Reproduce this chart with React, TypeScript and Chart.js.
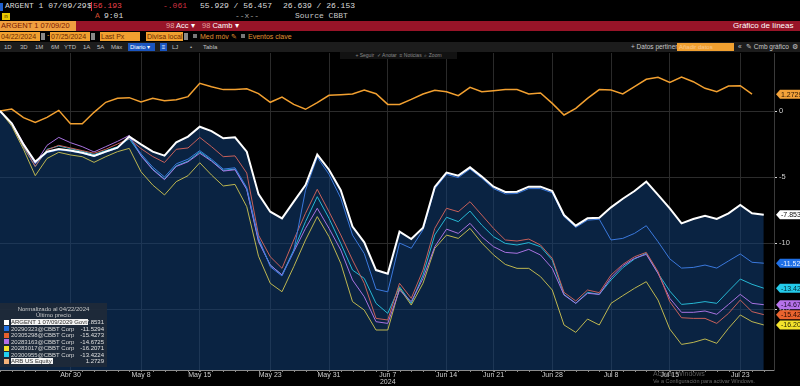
import React, { useEffect, useRef } from "react";
import { Chart, registerables } from "chart.js";
Chart.register(...registerables);

const dates = [
  "04-22","04-23","04-24","04-25","04-26","04-29","04-30","05-01","05-02","05-03",
  "05-06","05-07","05-08","05-09","05-10","05-13","05-14","05-15","05-16","05-17",
  "05-20","05-21","05-22","05-23","05-24","05-28","05-29","05-30","05-31","06-03",
  "06-04","06-05","06-06","06-07","06-10","06-11","06-12","06-13","06-14","06-17",
  "06-18","06-20","06-21","06-24","06-25","06-26","06-27","06-28","07-01","07-02",
  "07-03","07-05","07-08","07-09","07-10","07-11","07-12","07-15","07-16","07-17",
  "07-18","07-19","07-22","07-23","07-24","07-25",
];
const xTickDates = ["04-30","05-08","05-15","05-23","05-31","06-07","06-14","06-21","06-28","07-08","07-15","07-23"];
const xTickLabels = ["Abr 30","May 8","May 15","May 23","May 31","Jun 7","Jun 14","Jun 21","Jun 28","Jul 8","Jul 15","Jul 23"];
const xYearLabelDate = "06-07";
const yearLabel = "2024";
const yTicks = [-15, -10, -5, 0];

const argent = [
  0,-0.93,-2.53,-3.84,-3.08,-2.88,-3.0,-3.16,-3.41,-3.08,-2.78,-1.94,
  -2.53,-3.08,-3.38,-2.37,-1.94,-1.19,-1.52,-2.07,-1.99,-3.08,
  -6.3,-7.63,-8.13,-6.87,-5.61,-3.3,-4.45,-6.0,-8.76,-9.95,-12.05,-12.33,-9.14,-9.7,-8.85,-5.75,
  -4.66,-4.9,-4.27,-4.97,-5.73,-6.13,-6.11,-5.73,-5.73,-6.06,-7.88,-8.69,-8.13,-8.08,
  -7.3,-6.65,-6.06,-5.35,-6.36,-7.37,-8.51,-8.18,-7.93,-8.18,-7.75,-7.12,-7.75,-7.8531,
];
const bond20290323 = [
  0,-0.95,-2.6,-3.95,-3.15,-2.95,-3.05,-3.2,-3.45,-3.12,-2.82,-2.0,
  -3.25,-4.25,-5.0,-4.0,-3.65,-3.0,-3.65,-4.4,-4.3,-5.8,
  -9.6,-11.8,-12.5,-10.6,-6.0,-3.5,-4.8,-6.6,-9.4,-10.8,-13.5,-13.7,-10.0,-10.4,-9.0,-5.9,
  -4.8,-5.05,-4.4,-5.1,-5.88,-6.28,-6.25,-5.88,-5.88,-6.2,-8.0,-8.82,-8.27,-8.2,
  -9.77,-9.65,-9.27,-8.69,-9.9,-11.2,-11.9,-11.85,-11.67,-11.9,-11.36,-10.83,-11.46,-11.5294,
];
const bond20305298 = [
  0,-1.0,-2.7,-4.2,-2.95,-2.6,-2.8,-3.0,-3.2,-2.9,-2.5,-2.1,
  -2.85,-3.45,-3.9,-2.9,-2.8,-2.0,-2.7,-3.46,-3.4,-4.7,
  -9.4,-11.04,-11.92,-9.77,-7.75,-5.93,-7.63,-9.39,-11.29,-13.05,-15.71,-15.83,-13.05,-14.19,-12.05,-8.89,
  -7.37,-7.63,-6.87,-7.88,-8.89,
  -9.77,-9.85,-9.7,-10.15,-11.16,-13.74,-14.39,-13.56,-13.76,-12.42,-11.62,-11.04,-10.71,-12.17,-14.44,-15.66,-15.71,-15.71,-16.09,-15.33,-14.32,-15.2,-15.4273,
];
const bond20283163 = [
  0,-0.9,-2.45,-4.0,-2.6,-2.0,-2.4,-2.7,-3.1,-2.7,-2.3,-1.85,
  -3.4,-4.45,-5.2,-4.2,-3.85,-3.2,-3.8,-4.55,-4.45,-5.95,
  -9.9,-11.67,-12.42,-10.66,-8.89,-7.37,-8.89,-10.53,-12.8,-14.07,-15.96,-16.09,-13.56,-14.44,-12.68,-10.28,
  -8.95,-9.27,-8.51,-9.52,-10.28,
  -10.71,-10.78,-10.48,-10.91,-11.92,-13.94,-14.57,-13.81,-13.89,-12.63,-11.72,-11.16,-10.86,-12.3,-14.19,-15.25,-15.25,-15.15,-15.4,-14.65,-13.89,-14.57,-14.6725,
];
const bond20283017 = [
  0,-1.15,-2.9,-4.9,-3.6,-3.13,-3.33,-3.46,-3.89,-3.46,-3.08,-2.83,
  -4.6,-5.61,-6.36,-5.35,-4.9,-3.92,-4.85,-5.68,-5.56,-7.25,
  -11.0,-13.05,-13.69,-11.79,-9.77,-8.0,-9.52,-11.54,-14.44,-15.08,-16.59,-16.59,-13.43,-14.7,-13.05,-10.4,
  -9.4,-9.65,-8.89,-10.0,-10.9,
  -11.62,-11.92,-11.92,-12.55,-13.56,-16.21,-16.77,-15.76,-16.21,-14.57,-13.99,-13.43,-12.93,-14.32,-16.52,-17.68,-17.53,-17.27,-17.6,-16.46,-15.45,-15.96,-16.2071,
];
const bond20300955 = [
  0,-1.0,-2.75,-4.2,-2.9,-2.65,-2.85,-3.05,-3.3,-3.0,-2.7,-2.1,
  -3.35,-4.4,-5.15,-4.15,-3.8,-3.1,-3.75,-4.5,-4.4,-5.9,
  -9.8,-11.67,-12.42,-10.53,-8.38,-6.49,-8.13,-10.03,-12.05,-12.68,-14.57,-15.33,-13.31,-14.57,-12.42,-9.39,
  -8.05,-8.38,-7.58,-8.64,-9.52,
  -10.03,-10.15,-9.97,-10.28,-11.29,-13.89,-14.57,-13.74,-13.89,-12.8,-11.87,-11.21,-10.78,-12.3,-13.64,-14.65,-14.57,-14.44,-14.57,-13.64,-12.73,-13.13,-13.4224,
];
const arbEquity = [
  0,0.15,-0.5,-0.86,-0.48,0.05,-0.96,-0.96,-0.1,0.66,0.96,1.01,0.68,0.96,0.78,0.86,1.09,2.1,1.84,1.62,1.62,1.69,1.32,
  0.66,1.06,0.5,0.13,0.63,1.19,1.24,1.29,1.59,1.31,0.5,0.5,0.88,1.29,1.57,1.46,1.16,1.79,1.46,1.54,
  1.62,1.62,1.29,1.36,0.58,-0.3,0.2,0.96,1.62,1.59,1.29,1.84,2.4,2.55,2.17,2.58,2.22,1.72,1.46,1.89,1.92,1.2729,
  null,
];

const seriesNames = [
  "ARGENT 1 07/09/2029 Govt",
  "20290323@CBBT Corp",
  "20305298@CBBT Corp",
  "20283163@CBBT Corp",
  "20283017@CBBT Corp",
  "20300955@CBBT Corp",
  "ARB US Equity",
];
const seriesData = [argent, bond20290323, bond20305298, bond20283163, bond20283017, bond20300955, arbEquity];
const lineColors = ["#ffffff", "#3a78dc", "#c8605a", "#a872e0", "#bdb650", "#26b8d4", "#f2a030"];
const legendColors = ["#ffffff", "#1f6fe0", "#e8602c", "#b46ee8", "#f5e02a", "#22d0f0", "#f4b27a"];
const tagColors = ["#ffffff", "#1f6fe5", "#ea632e", "#b672ea", "#f3e32c", "#24cbea", "#f3a23a"];
const tagTextColors = ["#101010", "#e8f0ff", "#2a0a00", "#1a0a2a", "#2a2a00", "#002a33", "#2a1400"];

const legendTitle = "Normalizado al 04/22/2024";
const legendSub = "Último precio";

function lastVal(arr: (number | null)[]) {
  for (let i = arr.length - 1; i >= 0; i--) if (arr[i] !== null) return arr[i] as number;
  return 0;
}

const FONT = '"Liberation Sans", Arial, sans-serif';
const MONO = '"Liberation Mono", "DejaVu Sans Mono", monospace';

export default function App() {
  const ref = useRef<HTMLCanvasElement | null>(null);

  useEffect(() => {
    const canvas = ref.current!;
    const tickIdx = xTickDates.map((d) => dates.indexOf(d));
    const yearIdx = dates.indexOf(xYearLabelDate);

    const extras = {
      id: "extras",
      afterDraw(chart: any) {
        const ctx = chart.ctx;
        const xs = chart.scales.x;
        const ys = chart.scales.y;
        const ca = chart.chartArea;
        ctx.save();
        ctx.strokeStyle = "#8c8c8c";
        ctx.lineWidth = 1;
        for (let i = 0; i < dates.length; i++) {
          const px = Math.round(xs.getPixelForValue(i)) + 0.5;
          ctx.beginPath();
          ctx.moveTo(px, ca.bottom);
          ctx.lineTo(px, ca.bottom + 2);
          ctx.stroke();
        }
        const W = chart.width;
        const x0 = ca.right + 2;
        ctx.font = "7px " + FONT;
        ctx.textBaseline = "middle";
        seriesData.forEach((arr, k) => {
          const v = lastVal(arr);
          const py = ys.getPixelForValue(v);
          const h = 4.5;
          ctx.fillStyle = tagColors[k];
          ctx.beginPath();
          ctx.moveTo(x0, py);
          ctx.lineTo(x0 + 4, py - h);
          ctx.lineTo(W, py - h);
          ctx.lineTo(W, py + h);
          ctx.lineTo(x0 + 4, py + h);
          ctx.closePath();
          ctx.fill();
          ctx.fillStyle = tagTextColors[k];
          ctx.textAlign = "left";
          ctx.fillText(v.toFixed(4), x0 + 5, py + 0.5);
        });
        ctx.restore();
      },
    };

    const chart = new Chart(canvas, {
      type: "line",
      data: {
        datasets: seriesData.map((arr, k) => ({
          label: seriesNames[k],
          data: arr.map((v, i) => ({ x: i, y: v })),
          borderColor: lineColors[k],
          borderWidth: k === 0 ? 2 : k === 6 ? 1.5 : 1,
          pointRadius: 0,
          tension: 0,
          fill: k === 0 ? "start" : false,
          backgroundColor: k === 0 ? "rgba(18,64,120,0.55)" : lineColors[k],
        })),
      },
      options: {
        animation: false,
        responsive: false,
        devicePixelRatio: 1,
        layout: { padding: { top: 1, left: 0, right: 0, bottom: 0 } },
        plugins: {
          legend: { display: false },
          tooltip: { enabled: false },
          filler: { drawTime: "beforeDatasetsDraw" },
        },
        scales: {
          x: {
            type: "linear",
            min: 0,
            max: 65.87,
            afterBuildTicks: (s: any) => {
              s.ticks = tickIdx.map((v) => ({ value: v }));
            },
            afterFit: (s: any) => {
              s.height = 16;
            },
            ticks: {
              autoSkip: false,
              maxRotation: 0,
              padding: 0,
              color: "#cfcfcf",
              font: { family: FONT, size: 7, lineHeight: 1 },
              callback: (v: any) => {
                const i = tickIdx.indexOf(Number(v));
                if (i < 0) return "";
                return Number(v) === yearIdx ? [xTickLabels[i], yearLabel] : xTickLabels[i];
              },
            },
            grid: { color: "#2a2a2a", tickLength: 2, tickColor: "#8c8c8c" },
            border: { color: "#8c8c8c" },
          },
          y: {
            type: "linear",
            position: "right",
            min: -19.62,
            max: 4.394,
            afterBuildTicks: (s: any) => {
              s.ticks = yTicks.map((v) => ({ value: v }));
            },
            afterFit: (s: any) => {
              s.width = 26;
              s.paddingTop = 0;
              s.paddingBottom = 0;
            },
            ticks: {
              padding: 2,
              color: "#cfcfcf",
              font: { family: FONT, size: 7.5 },
              callback: (v: any) => String(v),
            },
            grid: { color: "#2c2c2c", tickLength: 3, tickColor: "#d8d8d8" },
            border: { color: "#3a3a3a" },
          },
        },
      } as any,
      plugins: [extras],
    });
    return () => chart.destroy();
  }, []);

  const abs = (l: number, t: number, extra: any = {}) => ({ position: "absolute" as const, left: l, top: t, whiteSpace: "nowrap" as const, ...extra });
  const orangeBox = (l: number, w: number, text: string, t = 32) => (
    <div style={abs(l, t, { width: w, height: 9, background: "#f0a030", color: "#6a2a00", fontSize: 7, lineHeight: "9px", paddingLeft: 1, boxSizing: "border-box" })}>{text}</div>
  );

  return (
    <div style={{ position: "fixed", left: 0, top: 0, width: 800, height: 386, background: "#000", overflow: "hidden", fontFamily: FONT }}>
      <div style={abs(0, 3, { width: 3, height: 8, background: "#2060d0" })} />
      <div style={abs(5, 1, { fontFamily: MONO, fontSize: 8, color: "#dcdcdc" })}>ARGENT 1 07/09/29</div>
      <div style={abs(87, 1, { fontFamily: MONO, fontSize: 8, color: "#dcdcdc" })}>$</div>
      <div style={abs(91, 2, { width: 1, height: 9, background: "#e0303a" })} />
      <div style={abs(93, 1, { fontFamily: MONO, fontSize: 8, color: "#e8404a" })}>56.193</div>
      <div style={abs(163, 1, { fontFamily: MONO, fontSize: 8, color: "#d03040" })}>-.061</div>
      <div style={abs(200, 1, { fontFamily: MONO, fontSize: 8, color: "#dcdcdc" })}>55.929 / 56.457</div>
      <div style={abs(283, 1, { fontFamily: MONO, fontSize: 8, color: "#dcdcdc" })}>26.639 / 26.153</div>
      <div style={abs(2, 13, { width: 8, height: 7, background: "#e8c800", color: "#302000", fontSize: 6, lineHeight: "7px", textAlign: "center" })}>n</div>
      <div style={abs(95, 11, { fontFamily: MONO, fontSize: 8, color: "#d04a30" })}>A</div>
      <div style={abs(104, 11, { fontFamily: MONO, fontSize: 8, color: "#dcdcdc" })}>9:01</div>
      <div style={abs(235, 11, { fontFamily: MONO, fontSize: 8, color: "#a0a0a0" })}>--x--</div>
      <div style={abs(295, 11, { fontFamily: MONO, fontSize: 8, color: "#c8c8c8" })}>Source CBBT</div>
      <div style={abs(0, 21, { width: 800, height: 10, background: "#981428" })} />
      <div style={abs(0, 21, { width: 76, height: 10, background: "#f0a040", color: "#7a1800", fontSize: 7.5, lineHeight: "10px", paddingLeft: 1, boxSizing: "border-box" })}>ARGENT 1 07/09/20</div>
      <div style={abs(166, 21, { fontSize: 7.5, lineHeight: "10px", color: "#fff" })}><span style={{ color: "#e0a0a0" }}>98</span> Acc ▾</div>
      <div style={abs(202, 21, { fontSize: 7.5, lineHeight: "10px", color: "#fff" })}><span style={{ color: "#e0a0a0" }}>98</span> Camb ▾</div>
      <div style={abs(733, 21, { fontSize: 8, lineHeight: "10px", color: "#fff" })}>Gráfico de líneas</div>
      {orangeBox(0, 40, "04/22/2024")}
      <div style={abs(41, 33, { width: 4, height: 7, background: "#888" })} />
      <div style={abs(47, 31, { fontSize: 7, color: "#f0a030" })}>-</div>
      {orangeBox(50, 40, "07/25/2024")}
      <div style={abs(91, 33, { width: 4, height: 7, background: "#888" })} />
      {orangeBox(100, 40, "Last Px")}
      {orangeBox(146, 37, "Divisa local")}
      <div style={abs(184, 33, { width: 4, height: 7, background: "#888" })} />
      <div style={abs(193, 34, { width: 4, height: 4, background: "#777" })} />
      <div style={abs(200, 32, { fontSize: 7, lineHeight: "9px", color: "#e09030" })}>Med móv ✎</div>
      <div style={abs(241, 34, { width: 4, height: 4, background: "#777" })} />
      <div style={abs(248, 32, { fontSize: 7, lineHeight: "9px", color: "#e09030" })}>Eventos clave</div>
      <div style={abs(0, 42, { width: 800, height: 10, background: "#1c1c1c" })} />
      {[["1D", 4], ["3D", 20], ["1M", 35], ["6M", 51], ["YTD", 64], ["1A", 83], ["5A", 97], ["Máx", 111], ["LJ", 172], ["•", 190], ["Tabla", 203]].map(([t, l]) => (
        <div key={String(t) + l} style={abs(l as number, 42, { fontSize: 6, lineHeight: "10px", color: "#c0c0c0" })}>{t}</div>
      ))}
      <div style={abs(128, 43, { width: 27, height: 8, background: "#1a55c0", color: "#fff", fontSize: 6, lineHeight: "8px", paddingLeft: 2, boxSizing: "border-box" })}>Diario ▾</div>
      <div style={abs(160, 43, { width: 7, height: 8, background: "#1a55c0", color: "#fff", fontSize: 6, lineHeight: "8px", textAlign: "center" })}>≡</div>
      <div style={abs(631, 42, { fontSize: 6.5, lineHeight: "10px", color: "#c8c8c8" })}>+ Datos pertinent</div>
      <div style={abs(677, 43, { width: 57, height: 8, background: "#f0a030", color: "#f8c890", fontSize: 6, lineHeight: "8px", paddingLeft: 2, boxSizing: "border-box" })}>Añadir datos</div>
      <div style={abs(738, 42, { fontSize: 6.5, lineHeight: "10px", color: "#c8c8c8" })}>«</div>
      <div style={abs(746, 42, { fontSize: 6.5, lineHeight: "10px", color: "#c8c8c8" })}>✎ Cmb gráfico</div>
      <div style={abs(792, 42, { fontSize: 7, lineHeight: "10px", color: "#c8c8c8" })}>⚙</div>

      <canvas ref={ref} width={800} height={334} style={{ position: "absolute", left: 0, top: 52, width: 800, height: 334 }} />

      <div style={abs(340, 52, { width: 117, height: 7, background: "#121212", color: "#8a8a8a", fontSize: 5, lineHeight: "7px", textAlign: "center" })}>+ Seguir&nbsp;&nbsp;✓ Anotar&nbsp;&nbsp;≡ Noticias&nbsp;&nbsp;⌕ Zoom</div>

      <div style={abs(0, 303, { width: 107, height: 64, background: "rgba(32,42,56,0.88)" })}>
        <div style={abs(0, 3, { width: 107, textAlign: "center", fontSize: 6, lineHeight: "6px", color: "#c8c8c8" })}>{legendTitle}</div>
        <div style={abs(0, 9, { width: 107, textAlign: "center", fontSize: 6, lineHeight: "6px", color: "#c8c8c8" })}>{legendSub}</div>
        {seriesNames.map((n, k) => {
          const top = 16 + k * 6.5;
          const hl = k === 0 || k === 6;
          return (
            <React.Fragment key={n}>
              <div style={abs(4, top + 0.5, { width: 5, height: 5, background: legendColors[k] })} />
              <div style={abs(11, top, { fontSize: 6, lineHeight: "6px", color: hl ? "#303030" : "#d8d8d8", background: hl ? "#f4f4f4" : "transparent", paddingRight: 1 })}>{n}</div>
              <div style={abs(60, top, { width: 44, textAlign: "right", fontSize: 6, lineHeight: "6px", color: "#e0e0e0" })}>{lastVal(seriesData[k]).toFixed(4)}</div>
            </React.Fragment>
          );
        })}
      </div>

      <div style={abs(653, 370, { fontSize: 7, color: "rgba(150,150,150,0.6)" })}>Activar Windows</div>
      <div style={abs(653, 378, { fontSize: 5.5, color: "rgba(150,150,150,0.7)" })}>Ve a Configuración para activar Windows.</div>
    </div>
  );
}
